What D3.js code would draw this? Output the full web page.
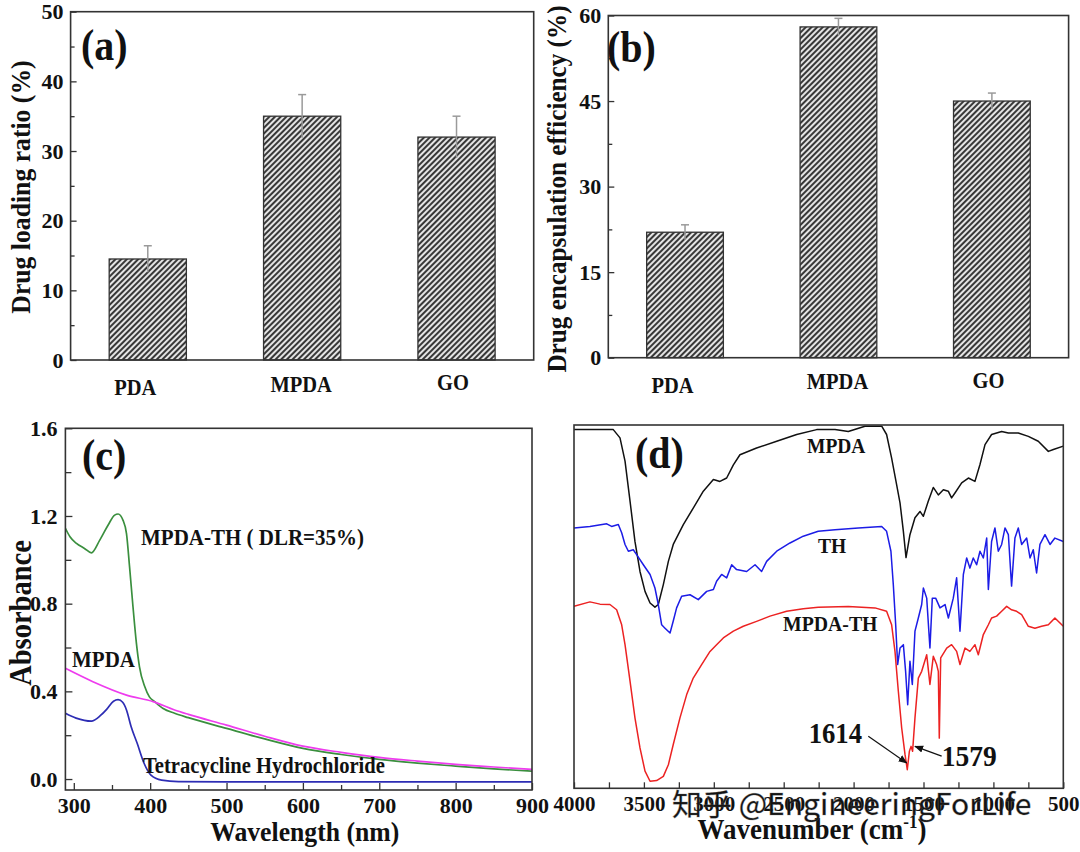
<!DOCTYPE html>
<html><head><meta charset="utf-8">
<script src="https://cdn.jsdelivr.net/npm/d3@7/dist/d3.min.js"></script>
<style>
body{margin:0;background:#fff}
svg text{font-family:"Liberation Serif","Times New Roman",serif;font-weight:bold;fill:#111}
</style>
</head><body>
<svg id="fig" width="1080" height="852"></svg>
<script>
// ---------------- DATA ----------------
const categories = ["PDA", "MPDA", "GO"];
const loadingRatio = [14.5, 35.0, 32.0];
const loadingErr = [1.9, 3.1, 3.0];
const encapEff = [22.0, 58.0, 45.0];
const encapErr = [1.3, 1.5, 1.4];
const ticksA = [0, 10, 20, 30, 40, 50];
const ticksB = [0, 15, 30, 45, 60];
const ticksCx = [300, 400, 500, 600, 700, 800, 900];
const ticksCy = [0.0, 0.4, 0.8, 1.2, 1.6];
const ticksDx = [4000, 3500, 3000, 2500, 2000, 1500, 1000, 500];

// UV-vis absorbance [wavelength nm, absorbance]
const uvMPDATH = [[289,1.144],[295,1.105],[303.5,1.075],[314,1.052],[323,1.032],[334,1.09],[345,1.159],[353.5,1.204],[358,1.209],[364.5,1.18],[369,1.12],[373,0.969],[377.5,0.786],[382,0.619],[386,0.512],[393,0.421],[399,0.375],[406,0.353],[417,0.322],[432,0.30],[450,0.28],[500,0.231],[550,0.183],[600,0.14],[650,0.112],[700,0.09],[750,0.073],[800,0.059],[850,0.046],[900,0.036]];
const uvMPDA = [[289,0.505],[325,0.444],[369,0.383],[404,0.353],[432,0.315],[450,0.295],[500,0.246],[550,0.195],[600,0.150],[650,0.122],[700,0.099],[750,0.082],[800,0.067],[850,0.055],[900,0.044]];
const uvTH = [[289,0.30],[303,0.278],[323,0.264],[335,0.29],[343,0.318],[352,0.355],[358,0.362],[364,0.35],[369,0.315],[375,0.24],[383,0.163],[392,0.072],[401,0.018],[415,-0.005],[437,-0.012],[500,-0.013],[600,-0.013],[700,-0.013],[800,-0.013],[900,-0.013]];

// FTIR transmittance (arbitrary units) [wavenumber cm-1, T]
const irMPDA = [[4000,98.9],[3886,98.9],[3719,98.9],[3671,96.7],[3635,90.5],[3599,79.8],[3564,69.1],[3528,61.1],[3492,55.8],[3456,52.7],[3421,51.6],[3397,52.3],[3361,57.6],[3325,63.8],[3290,68.3],[3218,73.6],[3147,78.0],[3075,82.5],[3003,85.6],[2956,85.1],[2908,86.0],[2860,89.5],[2813,92.2],[2694,94.0],[2550,95.8],[2407,97.6],[2264,98.9],[2133,98.9],[2038,98.4],[1919,99.8],[1799,99.8],[1764,97.6],[1728,91.3],[1692,84.2],[1668,79.4],[1644,71.8],[1625,64.8],[1597,70.9],[1561,75.4],[1525,77.1],[1501,75.8],[1466,79.8],[1430,83.5],[1394,81.5],[1358,82.9],[1323,82.5],[1299,80.7],[1275,82.0],[1227,84.7],[1179,86.0],[1132,85.1],[1096,89.6],[1060,94.9],[1013,97.6],[941,98.4],[893,98.0],[822,98.0],[750,97.1],[679,95.8],[607,93.1],[571,93.6],[500,94.5]];
const irTH = [[4000,72.7],[3886,73.1],[3766,73.8],[3731,73.1],[3683,73.6],[3659,71.4],[3635,68.3],[3611,66.5],[3576,66.9],[3552,65.6],[3504,62.9],[3456,60.3],[3421,56.7],[3397,52.3],[3373,46.9],[3349,46.0],[3313,44.7],[3290,47.9],[3266,51.4],[3230,54.5],[3170,54.9],[3111,53.6],[3051,55.8],[3003,56.3],[2980,58.5],[2944,60.3],[2908,59.4],[2872,62.9],[2837,61.6],[2765,61.1],[2705,62.9],[2658,61.1],[2622,63.8],[2550,66.5],[2455,68.7],[2360,70.5],[2253,71.8],[2133,72.2],[1966,72.7],[1799,73.1],[1764,71.8],[1733,66.5],[1716,57.6],[1699,46.9],[1685,36.3],[1668,40.7],[1644,41.6],[1628,34.5],[1613,25.6],[1597,37.2],[1580,31.0],[1561,45.2],[1537,48.7],[1513,52.3],[1501,56.7],[1477,54.0],[1454,40.7],[1437,54.0],[1413,54.0],[1382,51.4],[1346,52.3],[1322,48.7],[1287,54.0],[1263,59.4],[1239,45.2],[1215,60.3],[1191,64.7],[1168,62.0],[1144,64.7],[1120,62.9],[1096,66.5],[1072,64.7],[1048,70.0],[1036,56.3],[1013,69.1],[989,72.7],[965,66.5],[941,68.3],[917,72.7],[893,70.9],[870,57.2],[846,70.0],[822,72.7],[798,68.3],[762,70.0],[738,64.7],[715,66.9],[691,60.7],[667,68.3],[631,70.9],[595,68.3],[560,70.0],[500,69.1]];
const irMPDATH = [[4000,51.8],[3886,53.0],[3814,52.4],[3743,52.3],[3695,50.9],[3659,46.9],[3635,41.6],[3599,31.8],[3564,22.1],[3528,14.1],[3492,7.9],[3456,5.2],[3409,5.4],[3361,6.5],[3325,9.6],[3290,15.0],[3242,22.1],[3194,28.3],[3147,32.7],[3087,36.3],[3027,39.8],[2980,41.6],[2932,43.4],[2860,45.2],[2789,46.5],[2694,47.8],[2598,49.2],[2479,50.5],[2360,51.2],[2253,51.6],[2038,51.8],[1847,51.4],[1764,50.5],[1728,46.9],[1704,39.8],[1680,29.2],[1656,19.4],[1632,12.3],[1616,8.3],[1601,13.2],[1589,14.5],[1578,13.2],[1561,22.1],[1537,32.7],[1513,34.5],[1477,38.9],[1454,31.0],[1430,38.5],[1406,36.3],[1394,34.5],[1387,16.7],[1377,38.1],[1334,40.7],[1299,41.6],[1263,39.8],[1239,36.3],[1203,40.7],[1168,39.8],[1132,41.6],[1108,38.9],[1072,44.3],[1036,46.9],[1013,48.7],[977,49.2],[941,50.5],[905,51.8],[870,50.9],[834,50.5],[798,49.6],[750,46.5],[703,46.0],[655,46.5],[607,46.9],[560,48.7],[500,46.5]];
const irPeakLabels = ["1614", "1579"];

// ---------------- LAYOUT ----------------
const FA = {l:70.6, t:11.7, r:533.7, b:360};
const FB = {l:608.3, t:15.5, r:1068.6, b:357.7};
const FC = {l:65.4, t:428.3, r:532, b:790};
const FD = {l:574, t:425, r:1063.3, b:788.3};
const catShift = [-12.5, -1, -3.5];
const catDrop = [35, 31.5, 30];
const K = 1.1; // glyph vertical stretch seen in the reference

const svg = d3.select("#fig");
svg.append("rect").attr("width",1080).attr("height",852).attr("fill","#fff");
const defs = svg.append("defs");
const pat = defs.append("pattern").attr("id","hatch").attr("patternUnits","userSpaceOnUse")
  .attr("width",4).attr("height",4).attr("patternTransform","rotate(45)");
pat.append("rect").attr("width",4).attr("height",4).attr("fill","#e4e4e4");
pat.append("line").attr("x1",1).attr("x2",1).attr("y1",0).attr("y2",4).attr("stroke","#383838").attr("stroke-width",2);
defs.append("marker").attr("id","arrow").attr("viewBox","0 0 10 10").attr("refX",9).attr("refY",5)
  .attr("markerWidth",9).attr("markerHeight",9).attr("markerUnits","userSpaceOnUse").attr("orient","auto")
  .append("path").attr("d","M0,1 L10,5 L0,9 Z").attr("fill","#111");

function styleAxis(sel, size) {
  sel.attr("color","#333");
  sel.select(".domain").remove();
  sel.selectAll("line").attr("stroke-width",1.3);
  sel.selectAll("text").style("font-size", size + "px").style("font-family",'"Liberation Serif","Times New Roman",serif').style("font-weight","bold").attr("fill","#111");
}
function frame(F) {
  svg.append("rect").attr("x",F.l).attr("y",F.t).attr("width",F.r-F.l).attr("height",F.b-F.t)
    .attr("fill","none").attr("stroke","#333").attr("stroke-width",1.6);
}
function txt(x, y, s, size, opts={}) {
  const t = svg.append("text").attr("x",0).attr("y",0).text(s).style("font-size",size+"px");
  if (opts.anchor) t.attr("text-anchor",opts.anchor);
  t.attr("transform", `translate(${x},${y})` + (opts.rotate ? " rotate(-90)" : "") + ` scale(1,${K})`);
  return t;
}

// ---------------- BAR PANELS ----------------
function barPanel(F, vals, errs, ticks, minorStep, ymax) {
  const x = d3.scaleBand().domain(categories).range([F.l, F.r]).paddingInner(0.5).paddingOuter(0.25);
  const y = d3.scaleLinear().domain([0, ymax]).range([F.b, F.t]);
  const g = svg.append("g");
  g.selectAll("rect").data(categories).join("rect")
    .attr("x", d => x(d)).attr("width", x.bandwidth())
    .attr("y", (d,i) => y(vals[i])).attr("height", (d,i) => y(0) - y(vals[i]))
    .attr("fill","url(#hatch)").attr("stroke","#333").attr("stroke-width",1.3);
  const eg = g.append("g").attr("stroke","#9a9a9a").attr("stroke-width",1.5);
  categories.forEach((c,i) => {
    const cx = x(c) + x.bandwidth()/2;
    eg.append("line").attr("x1",cx).attr("x2",cx).attr("y1",y(vals[i]-errs[i])).attr("y2",y(vals[i]+errs[i]));
    eg.append("line").attr("x1",cx-4).attr("x2",cx+4).attr("y1",y(vals[i]+errs[i])).attr("y2",y(vals[i]+errs[i]));
  });
  const minor = d3.range(0, ymax + 1e-6, minorStep).filter(v => !ticks.includes(v));
  svg.append("g").attr("transform",`translate(${F.l},0)`)
    .call(d3.axisLeft(y).tickValues(minor).tickSize(-4).tickFormat(""))
    .call(s => styleAxis(s, 22));
  svg.append("g").attr("transform",`translate(${F.l},0)`)
    .call(d3.axisLeft(y).tickValues(ticks).tickSize(-6).tickPadding(7).tickFormat(d3.format("d")))
    .call(s => styleAxis(s, 22));
  frame(F);
  categories.forEach((c,i) => {
    txt(x(c) + x.bandwidth()/2 + catShift[i], F.b + catDrop[i], c, 20.5, {anchor:"middle"});
  });
}
barPanel(FA, loadingRatio, loadingErr, ticksA, 5, 50);
barPanel(FB, encapEff, encapErr, ticksB, 7.5, 60);
txt(30, 187, "Drug loading ratio (%)", 25.7, {anchor:"middle", rotate:true});
txt(566, 189, "Drug encapsulation efficiency (%)", 25.2, {anchor:"middle", rotate:true});
txt(81, 60, "(a)", 40);
txt(607, 62, "(b)", 40);

// ---------------- PANEL C ----------------
{
  const x = d3.scaleLinear().domain([289, 900]).range([FC.l, FC.r]);
  const y = d3.scaleLinear().domain([-0.05, 1.6]).range([FC.b, FC.t]);
  defs.append("clipPath").attr("id","clipC").append("rect")
    .attr("x",FC.l).attr("y",FC.t).attr("width",FC.r-FC.l).attr("height",FC.b-FC.t);
  const line = d3.line().x(d => x(d[0])).y(d => y(d[1])).curve(d3.curveMonotoneX);
  const g = svg.append("g").attr("clip-path","url(#clipC)").attr("fill","none").attr("stroke-width",1.7);
  g.append("path").datum(uvTH).attr("d",line).attr("stroke","#2d2db4");
  g.append("path").datum(uvMPDATH).attr("d",line).attr("stroke","#3a8f3e");
  g.append("path").datum(uvMPDA).attr("d",line).attr("stroke","#ee3cee");
  const minorX = d3.range(350, 900, 100);
  svg.append("g").attr("transform",`translate(0,${FC.b})`)
    .call(d3.axisBottom(x).tickValues(minorX).tickSize(-5).tickFormat("")).call(s => styleAxis(s,22));
  svg.append("g").attr("transform",`translate(0,${FC.b})`)
    .call(d3.axisBottom(x).tickValues(ticksCx).tickSize(-7).tickPadding(7.5).tickFormat(d3.format("d"))).call(s => styleAxis(s,22));
  const minorY = [0.2, 0.6, 1.0, 1.4];
  svg.append("g").attr("transform",`translate(${FC.l},0)`)
    .call(d3.axisLeft(y).tickValues(minorY).tickSize(-6).tickFormat("")).call(s => styleAxis(s,22));
  svg.append("g").attr("transform",`translate(${FC.l},0)`)
    .call(d3.axisLeft(y).tickValues(ticksCy).tickSize(-7).tickPadding(8).tickFormat(d3.format(".1f"))).call(s => styleAxis(s,22));
  frame(FC);
  txt(141, 545, "MPDA-TH ( DLR=35%)", 21);
  txt(72, 667, "MPDA", 21);
  txt(143, 773, "Tetracycline Hydrochloride", 20.6);
  txt(82, 470, "(c)", 40);
  txt(31, 613, "Absorbance", 28.5, {anchor:"middle", rotate:true});
  txt((FC.l+FC.r)/2 + 6, 841, "Wavelength (nm)", 25.7, {anchor:"middle"});
}

// ---------------- PANEL D ----------------
{
  const x = d3.scaleLinear().domain([4000, 500]).range([FD.l, FD.r]);
  const y = d3.scaleLinear().domain([3.33, 100.13]).range([FD.b, FD.t]);
  defs.append("clipPath").attr("id","clipD").append("rect")
    .attr("x",FD.l).attr("y",FD.t).attr("width",FD.r-FD.l).attr("height",FD.b-FD.t);
  const line = d3.line().x(d => x(d[0])).y(d => y(d[1]));
  const g = svg.append("g").attr("clip-path","url(#clipD)").attr("fill","none").attr("stroke-width",1.5).attr("stroke-linejoin","round");
  g.append("path").datum(irMPDA).attr("d",line).attr("stroke","#111");
  g.append("path").datum(irTH).attr("d",line).attr("stroke","#1c1ce6");
  g.append("path").datum(irMPDATH).attr("d",line).attr("stroke","#ec2222");
  const allTicks = d3.range(4000, 499, -250);
  svg.append("g").attr("transform",`translate(0,${FD.b})`)
    .call(d3.axisBottom(x).tickValues(allTicks).tickSize(-6).tickPadding(8)
      .tickFormat(d => ticksDx.includes(d) ? d : "")).call(s => styleAxis(s,21));
  frame(FD);
  txt(807, 453, "MPDA", 19.5);
  txt(818, 553, "TH", 19.5);
  txt(783, 631, "MPDA-TH", 19.8);
  txt(635, 468, "(d)", 40);
  // peak annotations
  svg.append("line").attr("x1",x(1895)).attr("y1",y(17.2)).attr("x2",x(1620)).attr("y2",y(10.1))
    .attr("stroke","#111").attr("stroke-width",1.2).attr("marker-end","url(#arrow)");
  svg.append("line").attr("x1",x(1370)).attr("y1",y(11.9)).attr("x2",x(1561)).attr("y2",y(14.5))
    .attr("stroke","#111").attr("stroke-width",1.2).attr("marker-end","url(#arrow)");
  txt(x(1940), y(15.4), irPeakLabels[0], 26.7, {anchor:"end"});
  txt(x(1370), y(9.2), irPeakLabels[1], 27.5);
  const xl = svg.append("text").attr("x", 0).attr("y", 0).attr("text-anchor","middle")
    .attr("transform", `translate(812,839) scale(1,${K})`).style("font-size","27px");
  xl.append("tspan").text("Wavenumber (cm");
  xl.append("tspan").text("-1").attr("dy",-10).style("font-size","17px");
  xl.append("tspan").text(")").attr("dy",10);
  // watermark
  svg.append("text").attr("x",672).attr("y",815).text("知乎 @EngineeringForLife")
    .style("font-family",'"Noto Sans CJK SC","Noto Sans",sans-serif').style("font-weight","normal")
    .style("font-size","30px").attr("fill","rgba(255,255,255,0.5)")
    .attr("stroke","rgba(120,120,120,0.3)").attr("stroke-width",1);
}
</script>
</body></html>
